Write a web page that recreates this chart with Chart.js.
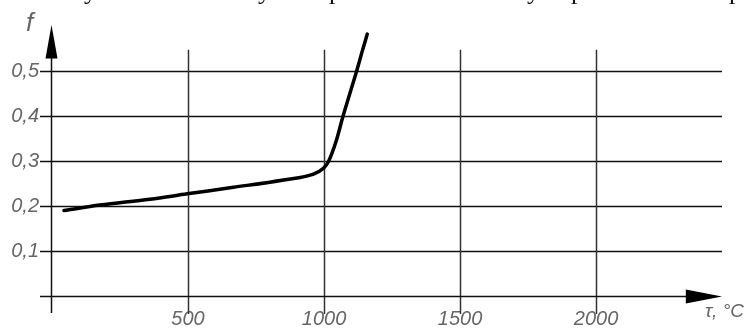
<!DOCTYPE html>
<html>
<head>
<meta charset="utf-8">
<script src="https://cdn.jsdelivr.net/npm/chart.js@4.4.1/dist/chart.umd.min.js"></script>
<style>
html,body{margin:0;padding:0;background:#fff;}
#wrap{width:748px;height:331px;}
</style>
</head>
<body>
<div id="wrap"><canvas id="c" width="748" height="331"></canvas></div>
<script>
// Temperature, °C
const tempC = [44, 176, 360, 497, 667, 851, 961, 998, 1016, 1045, 1070, 1095, 1120, 1140, 1159];
// Friction coefficient f
const frictionF = [0.190, 0.202, 0.215, 0.227, 0.2415, 0.258, 0.271, 0.284, 0.2985, 0.345, 0.400, 0.450, 0.500, 0.543, 0.582];
const xTicks = [500, 1000, 1500, 2000];
const yTicks = [0.1, 0.2, 0.3, 0.4, 0.5];
const yTickLabels = ["0,1", "0,2", "0,3", "0,4", "0,5"];
const xAxisTitle = "τ, °C";
const yAxisTitle = "f";
const topTextFragments = [["у", 84], ["у", 258], ["р", 329], ["у", 527], ["р", 571], ["р", 729]];

const X_MIN = -44.1, X_MAX = 2463;
const Y_MIN = -0.0222, Y_MAX = 0.6022;

const gridPlugin = {
  id: 'engGrid',
  beforeDatasetsDraw(chart) {
    const ctx = chart.ctx, xs = chart.scales.x, ys = chart.scales.y;
    const px = v => xs.getPixelForValue(v), py = v => ys.getPixelForValue(v);
    ctx.save();
    // horizontal grid
    ctx.strokeStyle = '#111';
    ctx.lineWidth = 1.5;
    yTicks.forEach(v => {
      const y = Math.round(py(v)) + 0.5;
      ctx.beginPath(); ctx.moveTo(px(X_MIN), y); ctx.lineTo(px(X_MAX), y); ctx.stroke();
    });
    // vertical grid
    ctx.strokeStyle = '#333';
    xTicks.forEach(v => {
      const x = Math.round(px(v)) + 0.5;
      ctx.beginPath(); ctx.moveTo(x, py(0.547)); ctx.lineTo(x, py(-0.04)); ctx.stroke();
    });
    // x axis
    ctx.strokeStyle = '#111';
    const y0 = Math.round(py(0)) + 0.5;
    ctx.beginPath(); ctx.moveTo(px(X_MIN), y0); ctx.lineTo(px(2350), y0); ctx.stroke();
    ctx.fillStyle = '#000';
    ctx.beginPath();
    ctx.moveTo(px(X_MAX), y0);
    ctx.lineTo(px(2330), y0 - 7);
    ctx.lineTo(px(2330), y0 + 7);
    ctx.closePath(); ctx.fill();
    // y axis
    const x0 = Math.round(px(0)) - 0.5;
    ctx.beginPath(); ctx.moveTo(x0, py(-0.038)); ctx.lineTo(x0, py(0.53)); ctx.stroke();
    ctx.beginPath();
    ctx.moveTo(x0, py(Y_MAX));
    ctx.lineTo(x0 - 6, py(0.528));
    ctx.lineTo(x0 + 6, py(0.528));
    ctx.closePath(); ctx.fill();
    ctx.restore();
  },
  afterDraw(chart) {
    const ctx = chart.ctx;
    ctx.save();
    ctx.fillStyle = '#666';
    ctx.font = "italic 26px 'Liberation Sans'";
    ctx.textBaseline = 'alphabetic';
    ctx.fillText(yAxisTitle, 26, 31);
    ctx.font = "italic 19px 'Liberation Sans'";
    ctx.fillText(xAxisTitle, 705, 317);
    ctx.fillStyle = '#111';
    ctx.font = "26px 'Liberation Serif'";
    topTextFragments.forEach(([t, x]) => ctx.fillText(t, x, -1));
    ctx.restore();
  }
};

new Chart(document.getElementById('c'), {
  type: 'line',
  data: {
    datasets: [{
      data: tempC.map((x, i) => ({ x: x, y: frictionF[i] })),
      borderColor: '#000',
      borderWidth: 3.5,
      pointRadius: 0,
      cubicInterpolationMode: 'monotone',
      borderJoinStyle: 'round',
      borderCapStyle: 'round',
      fill: false
    }]
  },
  options: {
    responsive: false,
    animation: false,
    devicePixelRatio: 1,
    layout: { padding: { top: 25, right: 26, left: 0, bottom: 0 } },
    plugins: { legend: { display: false }, tooltip: { enabled: false } },
    scales: {
      x: {
        type: 'linear',
        min: X_MIN, max: X_MAX,
        grid: { display: false, drawTicks: false },
        border: { display: false },
        afterBuildTicks: s => { s.ticks = xTicks.map(v => ({ value: v })); },
        afterFit: s => { s.height = 25; },
        ticks: {
          autoSkip: false, maxRotation: 0, padding: 1,
          color: '#666',
          font: { family: "'Liberation Sans'", size: 20, style: 'italic' },
          callback: v => String(v)
        }
      },
      y: {
        type: 'linear',
        min: Y_MIN, max: Y_MAX,
        grid: { display: false, drawTicks: false },
        border: { display: false },
        afterBuildTicks: s => { s.ticks = yTicks.map(v => ({ value: v })); },
        afterFit: s => { s.width = 40; },
        ticks: {
          padding: 1,
          color: '#666',
          font: { family: "'Liberation Sans'", size: 20, style: 'italic' },
          callback: v => { const i = yTicks.findIndex(t => Math.abs(t - v) < 1e-6); return i >= 0 ? yTickLabels[i] : ''; }
        }
      }
    }
  },
  plugins: [gridPlugin]
});
</script>
</body>
</html>
